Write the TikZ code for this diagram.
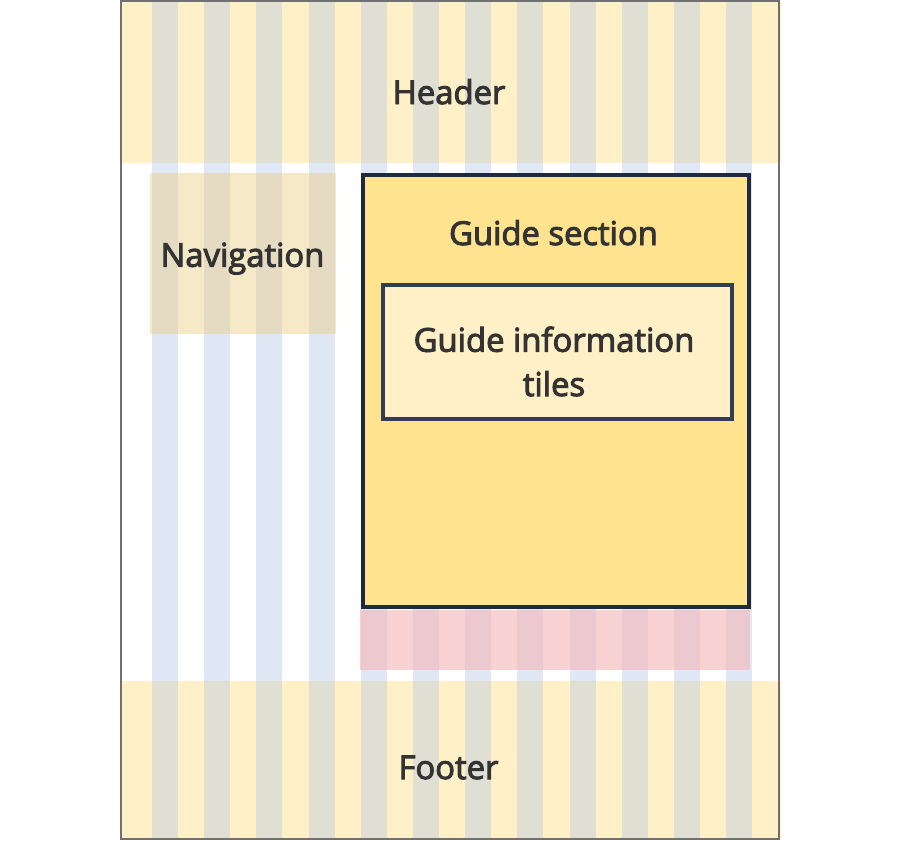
\documentclass[tikz,border=0pt]{standalone}
\usepackage{fontspec}
\setmainfont{Open Sans}
\newfontfamily\captionfont{Open Sans}[FakeBold=3]
\usetikzlibrary{positioning}

\definecolor{bandyellow}{RGB}{255,240,200}
\definecolor{columnblue}{RGB}{178,198,230}
\definecolor{navgold}{RGB}{234,202,124}
\definecolor{gutterpink}{RGB}{244,182,184}
\definecolor{guideyellow}{RGB}{255,227,143}
\definecolor{tileyellow}{RGB}{255,240,200}
\definecolor{darkline}{RGB}{31,41,64}
\definecolor{tileline}{RGB}{50,60,85}
\definecolor{framegray}{RGB}{112,112,112}
\definecolor{inkgray}{RGB}{51,51,51}

\begin{document}
\begin{tikzpicture}[
    x=1pt, y=-1pt,
    caption/.style={font=\captionfont\fontsize{32.8}{44}\selectfont, text=inkgray, anchor=base, align=center, inner sep=0pt},
    region/.style={anchor=north west, inner sep=0pt, outer sep=0pt},
    column/.style={fill=columnblue, opacity=0.4}
]

    % === Canvas ===
    \useasboundingbox (0,0) rectangle (900,841);

    % === Header and footer bands ===
    \node[region, fill=bandyellow, minimum width=660pt, minimum height=162pt] (header) at (121,1) {};
    \node[region, fill=bandyellow, minimum width=660pt, minimum height=159pt] (footer) at (121,681) {};

    % === Grid columns ===
    \foreach \i in {0,...,11}
        \fill[column] ({152+52.2*\i},1) rectangle ++(26,838);

    % === Navigation and gutter ===
    \node[region, fill=navgold, fill opacity=0.42, minimum width=186pt, minimum height=161pt] (nav) at (150,173) {};
    \node[region, fill=gutterpink, fill opacity=0.62, minimum width=390pt, minimum height=60pt] (gutter) at (360,610) {};

    % === Guide section ===
    \node[region, fill=guideyellow, draw=darkline, line width=4pt, minimum width=386pt, minimum height=432pt] (guide) at (363,175) {};
    \node[region, fill=tileyellow, draw=tileline, line width=4pt, minimum width=349pt, minimum height=134pt] (tiles) at (382.5,285) {};

    % === Frame ===
    \draw[framegray, line width=2pt] (121,1) rectangle (779,839);

    % === Labels ===
    \node[caption] (header label) at (449,104) {Header};
    \node[caption] (nav label) at (242.5,266.7) {Navigation};
    \node[caption] (guide label) at (553.5,245) {Guide section};
    \node[caption] (tiles label) at (554,351.7) {Guide information};
    \node[caption] (tiles label2) at (554,396) {tiles};
    \node[caption] (footer label) at (448.5,779) {Footer};

\end{tikzpicture}
\end{document}
